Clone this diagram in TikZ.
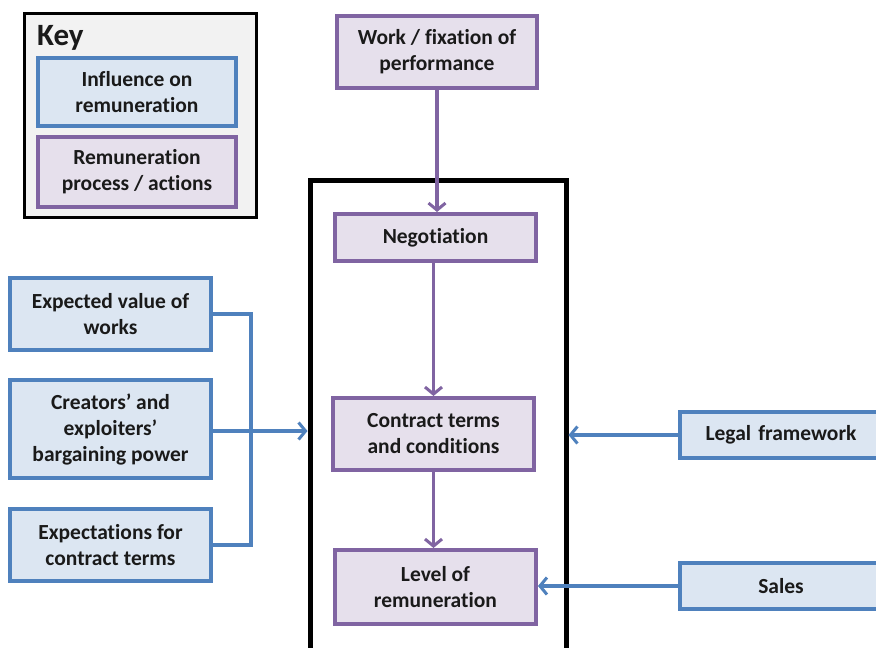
\documentclass[tikz,border=0pt]{standalone}
\usepackage{fontspec}
\setmainfont{Carlito}[RawFeature=-liga]
\usetikzlibrary{arrows.meta}
\definecolor{inflborder}{HTML}{4F81BD}
\definecolor{inflfill}{HTML}{DCE6F2}
\definecolor{procborder}{HTML}{8064A2}
\definecolor{procfill}{HTML}{E6E0EC}
\definecolor{keyfill}{HTML}{F2F2F2}
\definecolor{txt}{HTML}{1A1A1A}
\tikzset{
  box/.style={draw, line width=4pt, align=center, inner sep=2pt,
    font=\fontsize{21.5}{26}\selectfont\bfseries, text=txt},
  infl/.style={box, draw=inflborder, fill=inflfill},
  proc/.style={box, draw=procborder, fill=procfill},
  tip/.style={-{Straight Barb[length=7pt,width=17pt,line width=3pt]}},
  inflarrow/.style={tip, draw=inflborder, line width=3.5pt},
  procarrow/.style={tip, draw=procborder, line width=3.5pt},
}
\begin{document}
\begin{tikzpicture}[x=1pt,y=-1pt]
\useasboundingbox (0,0) rectangle (876,648);
\fill[white] (0,0) rectangle (876,648);

% key
\node[draw, line width=3pt, fill=keyfill, minimum width=232pt, minimum height=204pt, inner sep=0pt] (key) at (140,115) {};
\node[anchor=west, font=\fontsize{31}{36}\selectfont\bfseries, text=txt, inner sep=0pt] (keytitle) at (37,38) {Key};
\node[infl, minimum width=198pt, minimum height=68pt] (keyinfl) at (137,92) {Influence on\\remuneration};
\node[proc, minimum width=198pt, minimum height=70pt] (keyproc) at (137,172) {Remuneration\\process / actions};

% process frame
\node[draw, line width=5pt, fill=white, minimum width=256pt, minimum height=480pt, inner sep=0pt] (frame) at (438,420) {};

% process steps
\node[proc, minimum width=200pt, minimum height=72pt] (work) at (437,52) {Work / fixation of\\performance};
\node[proc, minimum width=201pt, minimum height=47pt] (nego) at (435.5,237.5) {Negotiation};
\node[proc, minimum width=201pt, minimum height=72pt] (contract) at (433.5,434) {Contract terms\\and conditions};
\node[proc, minimum width=201pt, minimum height=74pt] (level) at (435.5,587) {Level of\\remuneration};

% influences
\node[infl, minimum width=201pt, minimum height=72pt] (value) at (110.5,314) {Expected value of\\works};
\node[infl, minimum width=201pt, minimum height=98pt] (power) at (110.5,429) {Creators’ and\\exploiters’\\bargaining power};
\node[infl, minimum width=201pt, minimum height=72pt] (expect) at (110.5,545) {Expectations for\\contract terms};
\node[infl, minimum width=202pt, minimum height=46pt, text width=180pt] (legal) at (781,435) {Legal framework};
\node[infl, minimum width=202pt, minimum height=46pt, text width=180pt] (sales) at (781,586) {Sales};

% connectors
\coordinate (join) at (251,431);
\draw[inflborder, line width=3.5pt] (value.east) -| (join) |- (expect.east);
\draw[inflarrow] (power.east |- join) -- (join -| frame.west);
\draw[inflarrow] (legal.west) -- (legal.west -| frame.east);
\draw[inflarrow] (sales.west) -- (sales.west -| level.east);
\draw[procarrow] (work.south) -- (work.south |- nego.north);
\draw[procarrow] (nego.south -| contract.north) -- (contract.north);
\draw[procarrow] (contract.south) -- (contract.south |- level.north);
\end{tikzpicture}
\end{document}
